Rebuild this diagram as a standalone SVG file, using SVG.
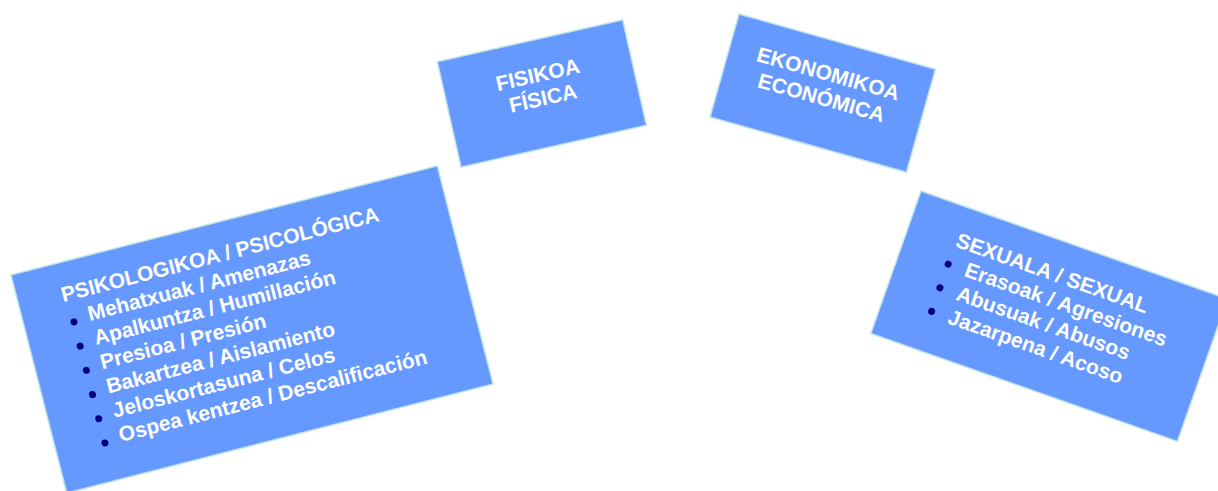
<svg xmlns="http://www.w3.org/2000/svg" width="1218" height="491" viewBox="0 0 1218 491">
<style>
.box{fill:#6699FF;stroke:#BFE3E6;stroke-width:1.5}
.t{font-family:"Liberation Sans",Arial,sans-serif;font-weight:bold;font-size:21px;fill:#FFFFFF}
.c{text-anchor:middle}
.b{fill:#000080}
</style>
<rect width="1218" height="491" fill="#FFFFFF"/>
<g id="connectors"></g>
<g id="psikologikoa" transform="translate(11,275) rotate(-14.35)">
<rect class="box" x="0" y="0" width="440" height="225"/>
<text class="t" x="44" y="39">PSIKOLOGIKOA / PSICOLÓGICA</text>
<circle class="b" cx="49.4" cy="61" r="3.5"/>
<circle class="b" cx="49.4" cy="86" r="3.5"/>
<circle class="b" cx="49.4" cy="111" r="3.5"/>
<circle class="b" cx="49.4" cy="136" r="3.5"/>
<circle class="b" cx="49.4" cy="161" r="3.5"/>
<circle class="b" cx="49.4" cy="186" r="3.5"/>
<text class="t" x="65" y="64">Mehatxuak / Amenazas</text>
<text class="t" x="65" y="89">Apalkuntza / Humillación</text>
<text class="t" x="65" y="114">Presioa / Presión</text>
<text class="t" x="65" y="139">Bakartzea / Aislamiento</text>
<text class="t" x="65" y="164">Jeloskortasuna / Celos</text>
<text class="t" x="65" y="189">Ospea kentzea / Descalificación</text>
</g>
<g id="fisikoa" transform="translate(437.3,61.7) rotate(-12.7)">
<rect class="box" x="0" y="0" width="190" height="108"/>
<text class="t c" x="95" y="42">FISIKOA</text>
<text class="t c" x="95" y="66">FÍSICA</text>
</g>
<g id="ekonomikoa" transform="translate(739,14) rotate(15.7)">
<rect class="box" x="0" y="0" width="204" height="107"/>
<text class="t c" x="102" y="40.5">EKONOMIKOA</text>
<text class="t c" x="102" y="65.5">ECONÓMICA</text>
</g>
<g id="sexuala" transform="translate(921,191) rotate(19.4)">
<rect class="box" x="0" y="0" width="325" height="151"/>
<text class="t" x="50" y="41">SEXUALA / SEXUAL</text>
<circle class="b" cx="50" cy="60" r="3.5"/>
<circle class="b" cx="50" cy="85" r="3.5"/>
<circle class="b" cx="50" cy="110" r="3.5"/>
<text class="t" x="68" y="66">Erasoak / Agresiones</text>
<text class="t" x="68" y="91">Abusuak / Abusos</text>
<text class="t" x="68" y="116">Jazarpena / Acoso</text>
</g>
</svg>
